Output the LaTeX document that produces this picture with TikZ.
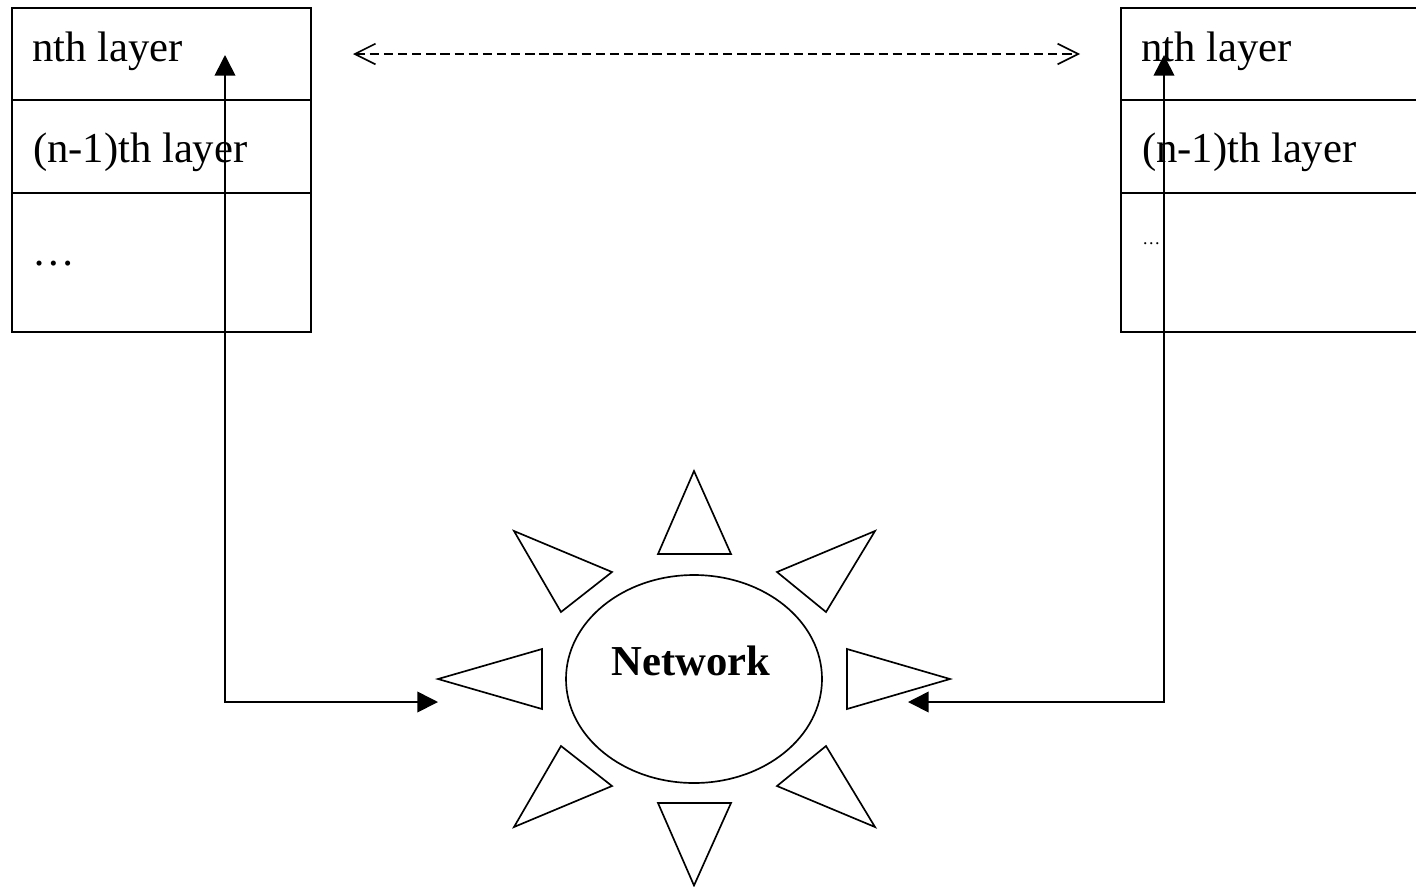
\documentclass[tikz,border=0pt]{standalone}
\usepackage{fontspec}
\setmainfont{Liberation Serif}
\usetikzlibrary{arrows.meta,shapes.geometric}
\tikzset{
  ln/.style={line width=1.25pt,black},
  cell/.style={ln,draw,rectangle,anchor=north west,inner sep=0pt,outer sep=0pt},
  lbl/.style={anchor=base west,inner sep=0pt,outer sep=0pt,font=\fontsize{32}{36}\selectfont},
  ray/.style={ln,draw,line join=miter},
  link/.style={ln,line cap=rect,-{Triangle[length=15.5pt,width=15.5pt]}},
  peer/.style={ln,dashed,dash pattern=on 7pt off 3.6pt,{Straight Barb[length=15.5pt,width=15.5pt,line width=1.2pt]}-{Straight Barb[length=15.5pt,width=15.5pt,line width=1.2pt]}}
}
\begin{document}
\begin{tikzpicture}[x=0.75pt,y=-0.75pt]
\useasboundingbox (0,0) rectangle (1416,886);
% left stack
\node[cell,minimum width=224.25pt,minimum height=69pt] (la) at (12,8) {};
\node[cell,minimum width=224.25pt,minimum height=69.75pt] (lb) at (12,100) {};
\node[cell,minimum width=224.25pt,minimum height=104.25pt] (lc) at (12,193) {};
\node[lbl] (lat) at (32,61) {nth layer};
\node[lbl] (lbt) at (33,162) {(n-1)th layer};
\node[lbl] (lct) at (32,265) {…};
% right stack, running off the page
\node[cell,minimum width=240pt,minimum height=69pt] (ra) at (1121,8) {};
\node[cell,minimum width=240pt,minimum height=69.75pt] (rb) at (1121,100) {};
\node[cell,minimum width=240pt,minimum height=104.25pt] (rc) at (1121,193) {};
\node[lbl] (rat) at (1141,61) {nth layer};
\node[lbl] (rbt) at (1142,162) {(n-1)th layer};
\node[anchor=base west,inner sep=0pt,font=\fontsize{13.5}{15}\selectfont] (rct) at (1142,244) {…};
% network
\node[ln,draw,ellipse,minimum width=192pt,minimum height=156pt,inner sep=0pt,outer sep=0pt] (net) at (694,679) {};
\node[anchor=base,inner sep=0pt,font=\fontsize{32}{36}\selectfont\bfseries] (nett) at (691,675) {Network};
% rays
\draw[ray] (694,471) -- (731,554) -- (658,554) -- cycle;
\draw[ray] (514,531) -- (612,572) -- (561,612) -- cycle;
\draw[ray] (875,531) -- (777,572) -- (826,612) -- cycle;
\draw[ray] (438,679) -- (542,649) -- (542,709) -- cycle;
\draw[ray] (950,679) -- (847,649) -- (847,709) -- cycle;
\draw[ray] (514,827) -- (612,786) -- (561,746) -- cycle;
\draw[ray] (875,827) -- (777,786) -- (826,746) -- cycle;
\draw[ray] (694,885.5) -- (731,803) -- (658,803) -- cycle;
% connector ends
\coordinate (ltop) at (225,55);
\coordinate (lcorner) at (225,702);
\coordinate (lend) at (438,702);
\coordinate (rtop) at (1164,55);
\coordinate (rcorner) at (1164,702);
\coordinate (rend) at (908,702);
\coordinate (pl) at (353,54);
\coordinate (pr) at (1080,54);
\draw[link] (lcorner) -- (ltop);
\draw[link] (lcorner) -- (lend);
\draw[link] (rcorner) -- (rtop);
\draw[link] (rcorner) -- (rend);
\draw[peer] (pl) -- (pr);
\end{tikzpicture}
\end{document}
